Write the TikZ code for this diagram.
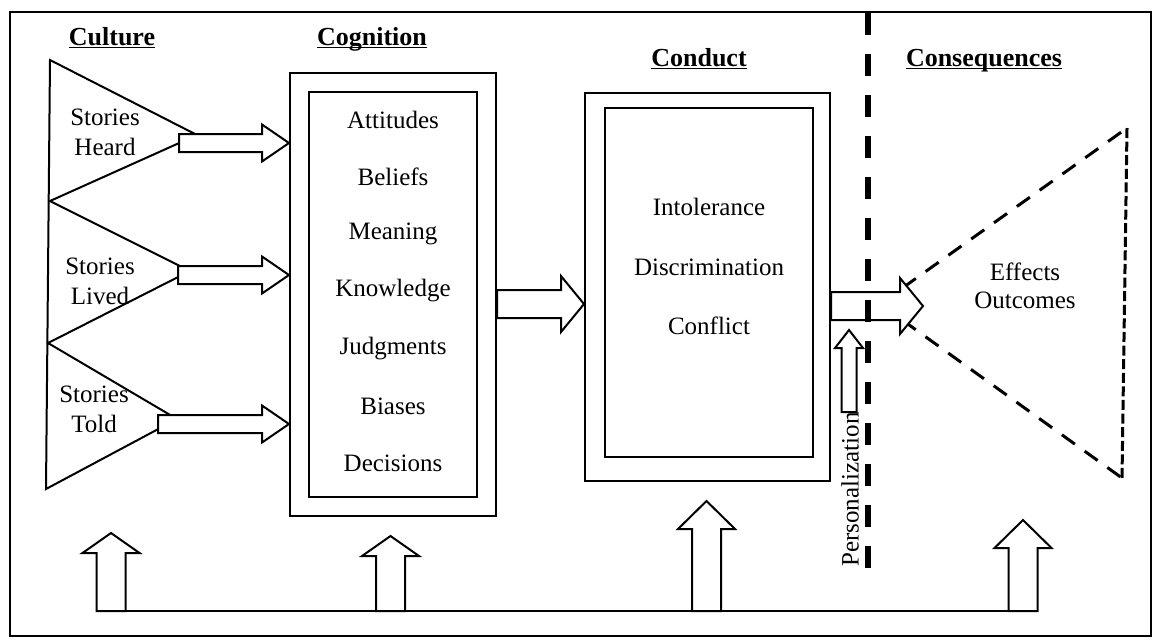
\documentclass[tikz,border=0pt]{standalone}
\usepackage{fontspec}
\setmainfont{Liberation Serif}
\usetikzlibrary{calc}

\tikzset{
  frameline/.style={line width=1pt},
  blockarrow/.style={line width=1pt, fill=white, line join=miter},
  title/.style={font=\fontsize{13}{15}\selectfont\bfseries, anchor=base},
  label/.style={font=\fontsize{12.5}{15}\selectfont, align=center},
  stagebox/.style={draw, line width=1pt, inner sep=0pt},
  dashtri/.style={line width=1.5pt, dash pattern=on 8pt off 6pt},
  dashedge/.style={line width=1.5pt, dash pattern=on 5pt off 1.8pt},
  divider/.style={line width=3pt, dash pattern=on 11pt off 9.5pt}
}

% underlined title, rule just under the baseline
\newcommand{\titletext}[1]{\underline{\smash{#1}}}

% right block arrow: tail, tip, half shaft, half head, head length
\newcommand{\blockright}[5]{%
  \filldraw[blockarrow] let \p1=(#1), \p2=(#2) in
    (\x1,\y2+#3) -- (\x2-#5,\y2+#3) -- (\x2-#5,\y2+#4) -- (\x2,\y2)
    -- (\x2-#5,\y2-#4) -- (\x2-#5,\y2-#3) -- (\x1,\y2-#3) -- cycle;}

% up block arrow: foot, tip, half shaft, half head, head length
\newcommand{\blockup}[5]{%
  \filldraw[blockarrow] let \p1=(#1), \p2=(#2) in
    (\x2-#3,\y1) -- (\x2-#3,\y2-#5) -- (\x2-#4,\y2-#5) -- (\x2,\y2)
    -- (\x2+#4,\y2-#5) -- (\x2+#3,\y2-#5) -- (\x2+#3,\y1) -- cycle;}

\begin{document}
\begin{tikzpicture}[x=0.5pt, y=-0.5pt]

\useasboundingbox (0,0) rectangle (1155,639);

% Part A: Frame and titles

\draw[frameline] (10,12) rectangle (1151,636);

\node[title] (culture) at (112,45) {\titletext{Culture}};
\node[title] (cognition) at (372,45) {\titletext{Cognition}};
\node[title] (conduct) at (699,66) {\titletext{Conduct}};
\node[title] (consequences) at (984,66) {\titletext{Consequences}};


% Part B: Culture triangles

\coordinate (t1top) at (50,60);
\coordinate (t1apex) at (197,135);
\coordinate (t2top) at (50,201);
\coordinate (t2apex) at (190,271);
\coordinate (t3top) at (48,343);
\coordinate (t3apex) at (177,419);
\coordinate (t3bot) at (46,489);

\draw[line width=1pt, line join=miter] (t1top) -- (t1apex) -- (t2top) -- (t2apex)
  -- (t3top) -- (t3apex) -- (t3bot) -- cycle;

\node[label] (heard) at (105,132) {Stories\\Heard};
\node[label] (lived) at (100,281) {Stories\\Lived};
\node[label] (told) at (94,409) {Stories\\Told};


% Part C: Cognition box

\node[stagebox, minimum width=103pt, minimum height=221.5pt] (cogout) at (393,294.5) {};
\node[stagebox, minimum width=84pt, minimum height=202.5pt] (cogin) at (393,294.5) {};

\node[label] (attitudes) at (393,120) {Attitudes};
\node[label] (beliefs) at (393,177) {Beliefs};
\node[label] (meaning) at (393,234) {Meaning};
\node[label] (knowledge) at (393,291) {Knowledge};
\node[label] (judgments) at (393,349) {Judgments};
\node[label] (biases) at (393,406) {Biases};
\node[label] (decisions) at (393,463) {Decisions};


% Part D: Conduct box

\node[stagebox, minimum width=122.5pt, minimum height=194pt] (conout) at (707.5,287) {};
\node[stagebox, minimum width=104pt, minimum height=174.5pt] (conin) at (709,282.5) {};

\node[label] (intolerance) at (709,207) {Intolerance};
\node[label] (discrimination) at (709,267) {Discrimination};
\node[label] (conflict) at (709,326) {Conflict};


% Part E: Consequences triangle

\coordinate (effapex) at (880,304);
\coordinate (efftop) at (1127,128);
\coordinate (effbot) at (1122,478);

\draw[dashtri] (effapex) -- (efftop);
\draw[dashtri] (effapex) -- (effbot);
\draw[dashedge] (efftop) -- (effbot);

\node[label, font=\fontsize{12.5}{14}\selectfont] (effects) at (1025,286) {Effects\\Outcomes};


% Part F: Arrows between stages

\coordinate (heardtail) at (179,143);
\coordinate (livedtail) at (178,275);
\coordinate (toldtail) at (158,424);

\blockright{heardtail}{cogout.west |- heardtail}{4.5pt}{9.25pt}{13.5pt}
\blockright{livedtail}{cogout.west |- livedtail}{4.5pt}{9.25pt}{13.5pt}
\blockright{toldtail}{cogout.west |- toldtail}{4.5pt}{9.25pt}{13.5pt}

\blockright{cogout.east}{conout.west |- 0,304}{7pt}{14pt}{11.5pt}

\coordinate (efftip) at (923,306);
\blockright{conout.east}{efftip}{7pt}{14pt}{11.5pt}


% Part G: Feedback line and up arrows

\coordinate (fbleft) at (97,611);
\coordinate (fbright) at (1037,611);
\draw[frameline] (fbleft) -- (fbright);

\coordinate (culup) at (111,533);
\coordinate (cogup) at (390.5,536);
\coordinate (conup) at (706.5,501);
\coordinate (csqup) at (1023,520);

\blockup{fbleft}{culup}{7.25pt}{14.25pt}{10pt}
\blockup{fbleft}{cogup}{7.25pt}{14.25pt}{10pt}
\blockup{fbleft}{conup}{7.25pt}{14.25pt}{14pt}
\blockup{fbleft}{csqup}{7.25pt}{14.25pt}{14pt}


% Part H: Personalization

\node[label, rotate=90, anchor=west, inner sep=0pt] (pers) at (850,567) {Personalization};
\coordinate (persup) at (849,330);
\blockup{pers.east}{persup}{3.75pt}{7pt}{9pt}

\coordinate (divtop) at (868,13);
\coordinate (divbot) at (868,569);
\draw[divider] (divtop) -- (divbot);

\end{tikzpicture}
\end{document}
